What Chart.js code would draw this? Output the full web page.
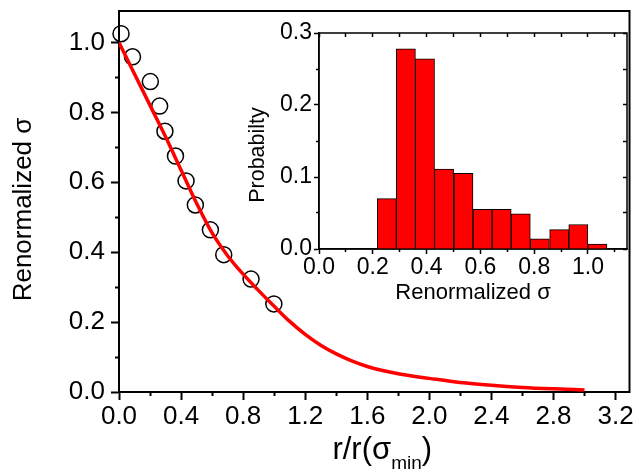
<!DOCTYPE html>
<html>
<head>
<meta charset="utf-8">
<script src="https://cdn.jsdelivr.net/npm/chart.js@4.4.1/dist/chart.umd.min.js"></script>
<style>
  body { margin: 0; background: #fff; }
  #wrap { position: relative; width: 639px; height: 476px; }
  #mainChart { position: absolute; left: 0; top: 0; }
  #insetChart { position: absolute; left: 240px; top: 0; }
</style>
</head>
<body>
<div id="wrap">
  <canvas id="mainChart" width="639" height="476"></canvas>
  <canvas id="insetChart" width="399" height="320"></canvas>
</div>
<script>
// main plot: measured points (open circles) and fitted curve (red)
var circleX = [0.013, 0.087, 0.202, 0.262, 0.296, 0.364, 0.432, 0.492, 0.589, 0.675, 0.851, 0.998];
var circleY = [1.025, 0.959, 0.888, 0.818, 0.746, 0.675, 0.604, 0.535, 0.464, 0.393, 0.323, 0.252];
var fitX = [0, 0.1, 0.2, 0.3, 0.4, 0.5, 0.6, 0.7, 0.8, 0.9, 1.0, 1.1, 1.2, 1.3, 1.4, 1.5, 1.6, 1.8, 2.0, 2.2, 2.4, 2.6, 2.8, 3.0];
var fitY = [1.0, 0.91, 0.82, 0.73, 0.635, 0.54, 0.455, 0.39, 0.337, 0.29, 0.245, 0.202, 0.165, 0.134, 0.109, 0.089, 0.073, 0.052, 0.039, 0.027, 0.019, 0.013, 0.009, 0.006];

var mainXTicks = [0, 0.4, 0.8, 1.2, 1.6, 2.0, 2.4, 2.8, 3.2];
var mainXMinor = [0.2, 0.6, 1.0, 1.4, 1.8, 2.2, 2.6, 3.0];
var mainYTicks = [0, 0.2, 0.4, 0.6, 0.8, 1.0];
var mainYMinor = [0.1, 0.3, 0.5, 0.7, 0.9];

// inset histogram
var binCenters = [0.252, 0.323, 0.394, 0.465, 0.537, 0.608, 0.679, 0.750, 0.821, 0.893, 0.964, 1.035];
var binProb = [0.070, 0.278, 0.264, 0.111, 0.105, 0.055, 0.055, 0.049, 0.014, 0.027, 0.034, 0.007];

var insetXTicks = [0, 0.2, 0.4, 0.6, 0.8, 1.0];
var insetXMinor = [0.1, 0.3, 0.5, 0.7, 0.9, 1.1];
var insetYTicks = [0, 0.1, 0.2, 0.3];
var insetYMinor = [0.05, 0.15, 0.25];

var FONT = '"Liberation Sans", Arial, sans-serif';

function noPad(s) {
  s.paddingLeft = 0; s.paddingRight = 0; s.paddingTop = 0; s.paddingBottom = 0;
}

// an axis that only draws tick marks (used for minor ticks and inward ticks)
function tickAxis(pos, min, max, values, len, width, weight) {
  var horiz = pos === 'top' || pos === 'bottom';
  return {
    type: 'linear', position: pos, min: min, max: max, weight: weight, offset: false,
    afterBuildTicks: function (s) { s.ticks = values.map(function (v) { return { value: v }; }); },
    ticks: { display: false },
    grid: { drawOnChartArea: false, drawTicks: true, tickLength: len, tickColor: '#000', tickWidth: width, offset: false },
    border: { display: false },
    afterFit: function (s) {
      if (horiz) s.height = 0; else s.width = 0;
      noPad(s);
    }
  };
}

var framePlugin = {
  id: 'frame',
  beforeDraw: function (chart, args, opts) {
    if (!opts.fill) return;
    var a = chart.chartArea, ctx = chart.ctx;
    ctx.save();
    ctx.fillStyle = opts.fill;
    ctx.fillRect(a.left, a.top, a.right - a.left, a.bottom - a.top);
    ctx.restore();
  },
  beforeDatasetsDraw: function (chart, args, opts) {
    var a = chart.chartArea, ctx = chart.ctx;
    ctx.save();
    ctx.strokeStyle = '#000';
    ctx.lineWidth = opts.width || 2;
    ctx.strokeRect(a.left, a.top, a.right - a.left, a.bottom - a.top);
    ctx.restore();
  }
};

// rotated y title, placed relative to the plot area
var yTitlePlugin = {
  id: 'yTitle',
  afterDraw: function (chart, args, opts) {
    var ctx = chart.ctx, a = chart.chartArea;
    ctx.save();
    ctx.translate(a.left + opts.dx, (a.top + a.bottom) / 2 + opts.dy);
    ctx.rotate(-Math.PI / 2);
    ctx.fillStyle = '#000';
    ctx.font = opts.size + 'px ' + FONT;
    ctx.textAlign = 'center';
    ctx.textBaseline = 'middle';
    ctx.fillText(opts.text, 0, 0);
    ctx.restore();
  }
};

// x title with a subscript: r/r(σ_min)
var xTitlePlugin = {
  id: 'xTitle',
  afterDraw: function (chart) {
    var ctx = chart.ctx, a = chart.chartArea;
    var big = '31px ' + FONT, small = '19px ' + FONT;
    var p1 = 'r/r(σ', p2 = 'min', p3 = ')';
    ctx.save();
    ctx.fillStyle = '#000';
    ctx.textBaseline = 'alphabetic';
    ctx.textAlign = 'left';
    ctx.font = big;
    var w1 = ctx.measureText(p1).width, w3 = ctx.measureText(p3).width;
    ctx.font = small;
    var w2 = ctx.measureText(p2).width;
    var x = (a.left + a.right) / 2 + 8 - (w1 + w2 + w3) / 2;
    var y = a.bottom + 67;
    ctx.font = big; ctx.fillText(p1, x, y);
    ctx.font = small; ctx.fillText(p2, x + w1, y + 10);
    ctx.font = big; ctx.fillText(p3, x + w1 + w2, y);
    ctx.restore();
  }
};

new Chart(document.getElementById('mainChart').getContext('2d'), {
  type: 'scatter',
  data: {
    datasets: [{
      label: 'fit',
      data: fitX.map(function (x, i) { return { x: x, y: fitY[i] }; }),
      showLine: true,
      borderColor: '#ff0000',
      borderWidth: 3.5,
      pointRadius: 0,
      cubicInterpolationMode: 'monotone',
      fill: false
    }, {
      label: 'data',
      data: circleX.map(function (x, i) { return { x: x, y: circleY[i] }; }),
      pointStyle: 'circle',
      pointRadius: 8,
      borderColor: '#000',
      borderWidth: 1.5,
      backgroundColor: 'rgba(0,0,0,0)',
      clip: false
    }]
  },
  options: {
    responsive: false,
    animation: false,
    layout: { padding: { left: 0, right: 6, top: 11, bottom: 0 } },
    plugins: {
      legend: { display: false }, tooltip: { enabled: false },
      frame: { width: 2 },
      yTitle: { text: 'Renormalized σ', size: 26, dx: -95, dy: 8 }
    },
    scales: {
      x: {
        type: 'linear', position: 'bottom', min: 0, max: 3.29, weight: 1,
        afterBuildTicks: function (s) { s.ticks = mainXTicks.map(function (v) { return { value: v }; }); },
        ticks: {
          callback: function (v) { return v.toFixed(1); },
          font: { size: 26, family: FONT }, color: '#000', padding: 1, maxRotation: 0, autoSkip: false
        },
        grid: { drawOnChartArea: false, drawTicks: true, tickLength: 8, tickColor: '#000', tickWidth: 2 },
        border: { display: true, color: '#000', width: 2 },
        afterFit: function (s) { s.height = 84; noPad(s); }
      },
      xMinor: tickAxis('bottom', 0, 3.29, mainXMinor, 4, 2, 0),
      y: {
        type: 'linear', position: 'left', min: 0, max: 1.09, weight: 1,
        afterBuildTicks: function (s) { s.ticks = mainYTicks.map(function (v) { return { value: v }; }); },
        ticks: {
          callback: function (v) { return v.toFixed(1); },
          font: { size: 26, family: FONT }, color: '#000', padding: 6
        },
        grid: { drawOnChartArea: false, drawTicks: true, tickLength: 8, tickColor: '#000', tickWidth: 2 },
        border: { display: true, color: '#000', width: 2 },
        afterFit: function (s) { s.width = 119; noPad(s); }
      },
      yMinor: tickAxis('left', 0, 1.09, mainYMinor, 4, 2, 0)
    }
  },
  plugins: [framePlugin, xTitlePlugin, yTitlePlugin]
});

new Chart(document.getElementById('insetChart').getContext('2d'), {
  type: 'bar',
  data: {
    datasets: [{
      label: 'Probabilty',
      data: binCenters.map(function (x, i) { return { x: x, y: binProb[i] }; }),
      backgroundColor: '#ff0000',
      borderColor: '#000',
      borderWidth: 1,
      barPercentage: 1,
      categoryPercentage: 1
    }]
  },
  options: {
    responsive: false,
    animation: false,
    layout: { padding: { left: 0, right: 12, top: 33, bottom: 0 } },
    plugins: {
      legend: { display: false }, tooltip: { enabled: false },
      frame: { width: 1.5, fill: '#fff' },
      yTitle: { text: 'Probabilty', size: 21.5, dx: -61, dy: 14 }
    },
    scales: {
      x: {
        type: 'linear', position: 'bottom', min: 0, max: 1.145, weight: 1, offset: false,
        afterBuildTicks: function (s) { s.ticks = insetXTicks.map(function (v) { return { value: v }; }); },
        ticks: {
          callback: function (v) { return v.toFixed(1); },
          font: { size: 23, family: FONT }, color: '#000', padding: 0, maxRotation: 0, autoSkip: false
        },
        grid: { drawOnChartArea: false, drawTicks: true, tickLength: 5, tickColor: '#000', tickWidth: 1.5, offset: false },
        border: { display: true, color: '#000', width: 1.5 },
        title: { display: true, text: 'Renormalized σ', color: '#000', font: { size: 22, family: FONT }, padding: { top: 0, bottom: 14 } },
        afterFit: function (s) { s.height = 71; noPad(s); }
      },
      xMinor: tickAxis('bottom', 0, 1.145, insetXMinor, 3, 1.5, 0),
      xTop: tickAxis('top', 0, 1.145, insetXTicks.concat(insetXMinor), -4, 1.5, 0),
      y: {
        type: 'linear', position: 'left', min: 0, max: 0.3, weight: 1,
        afterBuildTicks: function (s) { s.ticks = insetYTicks.map(function (v) { return { value: v }; }); },
        ticks: {
          callback: function (v) { return v.toFixed(1); },
          font: { size: 23, family: FONT }, color: '#000', padding: 2
        },
        grid: { drawOnChartArea: false, drawTicks: true, tickLength: 5, tickColor: '#000', tickWidth: 1.5 },
        border: { display: true, color: '#000', width: 1.5 },
        afterFit: function (s) { s.width = 79; noPad(s); }
      },
      yMinor: tickAxis('left', 0, 0.3, insetYMinor, 3, 1.5, 0),
      yRight: tickAxis('right', 0, 0.3, insetYTicks.concat(insetYMinor), -4, 1.5, 0)
    }
  },
  plugins: [framePlugin, yTitlePlugin]
});
</script>
</body>
</html>
